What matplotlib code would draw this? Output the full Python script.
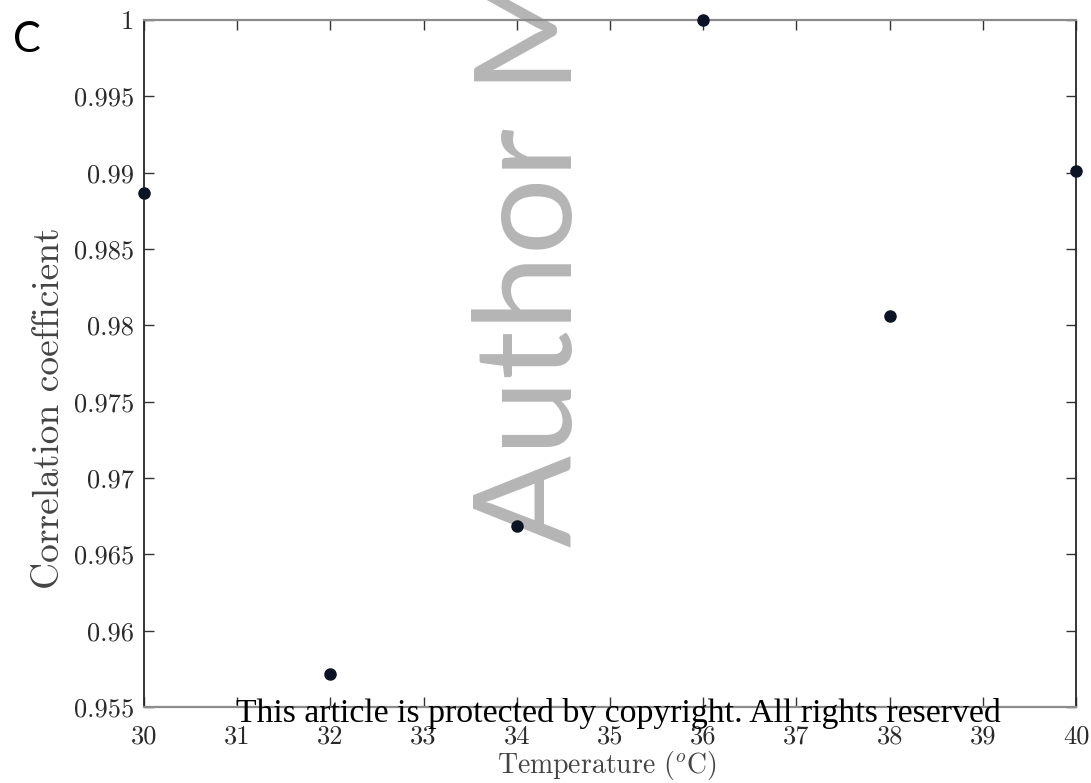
import matplotlib
matplotlib.use("Agg")
import matplotlib.pyplot as plt

# ---- data ----
temperature = [30, 32, 34, 36, 38, 40]
correlation = [0.98867, 0.95719, 0.96686, 1.0, 0.98063, 0.99010]
x_ticks = [30, 31, 32, 33, 34, 35, 36, 37, 38, 39, 40]
x_tick_labels = ["30", "31", "32", "33", "34", "35", "36", "37", "38", "39", "40"]
y_ticks = [0.955, 0.96, 0.965, 0.97, 0.975, 0.98, 0.985, 0.99, 0.995, 1.0]
y_tick_labels = ["0.955", "0.96", "0.965", "0.97", "0.975", "0.98", "0.985", "0.99", "0.995", "1"]

plt.rcParams["font.family"] = ["cmr10", "DejaVu Serif"]
plt.rcParams["mathtext.fontset"] = "cm"
plt.rcParams["axes.unicode_minus"] = False

W, H = 1091, 783
fig = plt.figure(figsize=(W / 100, H / 100), dpi=100)
fig.patch.set_facecolor("white")

L, R, T, B = 144, 1076, 20, 707
ax = fig.add_axes([L / W, 1 - B / H, (R - L) / W, (B - T) / H])
ax.patch.set_visible(False)

ax.plot(temperature, correlation, linestyle="none", marker="o",
        markersize=8, color="#0b1424", clip_on=False, zorder=5)

ax.set_xlim(30, 40)
ax.set_ylim(0.955, 1.0)
ax.set_xticks(x_ticks)
ax.set_xticklabels(x_tick_labels)
ax.set_yticks(y_ticks)
ax.set_yticklabels(y_tick_labels)

ax.tick_params(axis="both", direction="in", length=7, width=1.0,
               color="#333333", labelcolor="#2a2a2a", labelsize=19)
ax.tick_params(axis="x", top=True, pad=13)
ax.tick_params(axis="y", right=True, pad=7)

for side in ("left", "right"):
    ax.spines[side].set_color("#262626")
    ax.spines[side].set_linewidth(1.3)
for side in ("top", "bottom"):
    ax.spines[side].set_color("#8c8c8c")
    ax.spines[side].set_linewidth(1.6)

# axis labels (placed in figure pixels)
fig.text(607 / W, 1 - 765 / H, r"Temperature ($^o$C)", ha="center", va="center",
         fontsize=20, color="#444444")
fig.text(49 / W, 1 - 408 / H, "Correlation coefficient", ha="center", va="center",
         rotation=90, fontsize=27, color="#444444")

# panel letter
fig.text(13 / W, 1 - 52 / H, "C", ha="left", va="baseline",
         fontsize=30, family=["Lato", "DejaVu Sans"], color="black")

# watermark
fig.text(572 / W, 1 - 547 / H, "Author Manuscript", rotation=90,
         rotation_mode="anchor", ha="left", va="baseline",
         fontsize=98, family=["Lato", "DejaVu Sans"],
         color="#b5b5b5", zorder=-1)

# copyright line
fig.text(236 / W, 1 - 722 / H, "This article is protected by copyright. All rights reserved",
         ha="left", va="baseline", fontsize=24.3,
         family=["Liberation Serif", "DejaVu Serif"], color="black", zorder=10)

fig.savefig("out.png", dpi=100, facecolor="white")
